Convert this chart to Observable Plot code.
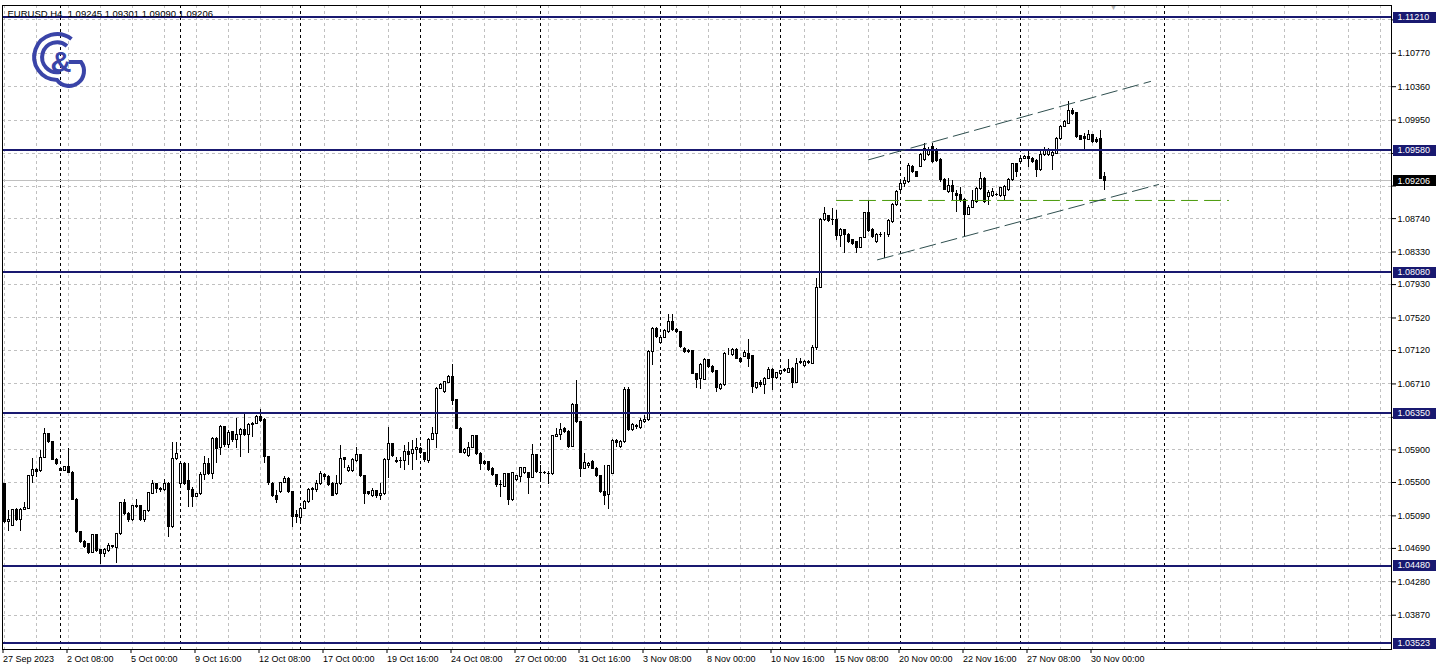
<!DOCTYPE html>
<html>
<head>
<meta charset="utf-8">
<script src="https://cdn.jsdelivr.net/npm/d3@7"></script>
<script src="https://cdn.jsdelivr.net/npm/@observablehq/plot@0.6"></script>
<style>
html,body{margin:0;padding:0;background:#fff;}
#wrap{position:relative;width:1438px;height:671px;overflow:hidden;background:#fff;}
#logo{position:absolute;left:0;top:0;pointer-events:none;}
</style>
</head>
<body>
<div id="wrap"></div>
<script>
// ---------- DATA ----------
const symbol = "EURUSD,H4";

// H4 bars, index 0 = 27 Sep 2023 16:00 ... index 275 = 30 Nov 2023 12:00
const open = [
1.05484,1.05013,1.04968,1.05156,1.05042,1.05165,1.05177,1.05574,1.05656,1.05639,
1.05803,1.06090,1.05995,1.05778,1.05668,1.05647,1.05688,1.05615,1.05287,1.04890,
1.04767,1.04739,1.04632,1.04849,1.04665,1.04616,1.04657,1.04714,1.04698,1.04862,
1.05250,1.05115,1.05034,1.05205,1.05205,1.05042,1.05148,1.05361,1.05484,1.05414,
1.05402,1.05484,1.04952,1.05791,1.05484,1.05729,1.05516,1.05410,1.05320,1.05353,
1.05586,1.05729,1.05607,1.06036,1.05926,1.06179,1.05960,1.06118,1.06016,1.06089,
1.06147,1.06077,1.06200,1.06220,1.06310,1.06269,1.05811,1.05484,1.05340,1.05381,
1.05492,1.05545,1.05381,1.05095,1.05066,1.05177,1.05259,1.05410,1.05410,1.05476,
1.05586,1.05566,1.05484,1.05353,1.05476,1.05799,1.05647,1.05647,1.05762,1.05832,
1.05574,1.05377,1.05328,1.05390,1.05328,1.05353,1.05770,1.05967,1.05758,1.05758,
1.05758,1.05873,1.05844,1.05893,1.05914,1.05860,1.05762,1.06024,1.06098,1.06650,
1.06609,1.06720,1.06794,1.06507,1.06159,1.05860,1.05819,1.05926,1.06065,1.05852,
1.05750,1.05746,1.05668,1.05586,1.05463,1.05443,1.05598,1.05287,1.05533,1.05566,
1.05615,1.05615,1.05557,1.05832,1.05619,1.05615,1.05607,1.05598,1.06057,1.06077,
1.06159,1.06118,1.05934,1.06454,1.06241,1.05668,1.05697,1.05750,1.05668,1.05574,
1.05382,1.05341,1.05607,1.06008,1.05934,1.05996,1.06638,1.06147,1.06180,1.06172,
1.06241,1.06270,1.07101,1.07387,1.07211,1.07277,1.07346,1.07469,1.07375,1.07346,
1.07142,1.07113,1.07113,1.06835,1.06773,1.06761,1.06998,1.06916,1.06863,1.06650,
1.06691,1.07088,1.07060,1.07121,1.07019,1.07040,1.07080,1.07052,1.06663,1.06720,
1.06692,1.06774,1.06884,1.06786,1.06835,1.06868,1.06843,1.06896,1.06720,1.06966,
1.06925,1.06966,1.06958,1.07154,1.07891,1.08726,1.08767,1.08718,1.08726,1.08521,
1.08595,1.08542,1.08472,1.08452,1.08382,1.08505,1.08808,1.08603,1.08452,1.08533,
1.08533,1.08533,1.08697,1.08902,1.09093,1.09167,1.09188,1.09372,1.09310,1.09373,
1.09454,1.09516,1.09618,1.09577,1.09454,1.09217,1.09066,1.09135,1.09045,1.09025,
1.08963,1.08787,1.08873,1.08943,1.09107,1.09229,1.09004,1.09012,1.09033,1.09012,
1.09012,1.09086,1.09209,1.09405,1.09434,1.09475,1.09495,1.09475,1.09446,1.09332,
1.09516,1.09516,1.09504,1.09536,1.09721,1.09864,1.09905,1.10060,1.10036,1.09749,
1.09741,1.09708,1.09761,1.09700,1.09721,1.09245
];
const high = [
1.05492,1.05156,1.05165,1.05177,1.05177,1.05259,1.05586,1.05791,1.05668,1.05893,
1.06159,1.06098,1.06008,1.05791,1.05688,1.05697,1.05914,1.05639,1.05300,1.04898,
1.04788,1.04755,1.04862,1.04858,1.04673,1.04686,1.04747,1.04731,1.04878,1.05259,
1.05287,1.05136,1.05218,1.05291,1.05218,1.05156,1.05381,1.05525,1.05492,1.05435,
1.05533,1.05504,1.05995,1.05995,1.05750,1.05750,1.05729,1.05443,1.05361,1.05620,
1.05819,1.05791,1.06048,1.06057,1.06200,1.06188,1.06138,1.06130,1.06282,1.06159,
1.06343,1.06220,1.06241,1.06323,1.06392,1.06282,1.05819,1.05504,1.05402,1.05504,
1.05574,1.05557,1.05394,1.05156,1.05197,1.05279,1.05430,1.05443,1.05525,1.05639,
1.05607,1.05586,1.05504,1.05586,1.05954,1.05811,1.05709,1.05791,1.05934,1.05844,
1.05586,1.05394,1.05422,1.05402,1.05484,1.05791,1.06180,1.05983,1.05811,1.05811,
1.05955,1.05995,1.06016,1.06036,1.05934,1.05873,1.06036,1.06180,1.06663,1.06712,
1.06744,1.06814,1.06949,1.06515,1.06171,1.05914,1.05991,1.06077,1.06077,1.05873,
1.05770,1.05758,1.05680,1.05598,1.05525,1.05607,1.05615,1.05627,1.05586,1.05688,
1.05688,1.05627,1.05967,1.05844,1.05709,1.05639,1.05639,1.06077,1.06159,1.06229,
1.06180,1.06139,1.06466,1.06753,1.06253,1.05852,1.05750,1.05770,1.05680,1.05586,
1.05709,1.05709,1.06024,1.06024,1.06016,1.06663,1.06671,1.06229,1.06212,1.06282,
1.06323,1.07121,1.07399,1.07399,1.07293,1.07375,1.07563,1.07563,1.07387,1.07358,
1.07154,1.07129,1.07121,1.06843,1.06957,1.07019,1.07006,1.06937,1.06876,1.06712,
1.07101,1.07142,1.07142,1.07142,1.07040,1.07121,1.07252,1.07060,1.06733,1.06753,
1.06794,1.06909,1.06896,1.06855,1.06876,1.06896,1.07007,1.06909,1.07019,1.07019,
1.06999,1.06999,1.07183,1.08001,1.08738,1.08873,1.08779,1.08861,1.08840,1.08615,
1.08603,1.08554,1.08480,1.08464,1.08513,1.08820,1.08963,1.08615,1.08554,1.08574,
1.08574,1.08726,1.08922,1.09086,1.09208,1.09249,1.09413,1.09392,1.09320,1.09536,
1.09659,1.09618,1.09659,1.09598,1.09475,1.09229,1.09229,1.09209,1.09086,1.09127,
1.08984,1.08902,1.09086,1.09127,1.09311,1.09242,1.09086,1.09107,1.09053,1.09127,
1.09148,1.09229,1.09422,1.09422,1.09495,1.09516,1.09585,1.09495,1.09463,1.09577,
1.09610,1.09598,1.09577,1.09741,1.09884,1.09946,1.10183,1.10089,1.10048,1.09761,
1.09782,1.09823,1.09774,1.09741,1.09823,1.09301
];
const low = [
1.05001,1.04903,1.04960,1.05025,1.04903,1.05156,1.05165,1.05484,1.05566,1.05627,
1.05791,1.05975,1.05770,1.05709,1.05639,1.05639,1.05607,1.05279,1.04878,1.04755,
1.04686,1.04616,1.04624,1.04645,1.04493,1.04583,1.04645,1.04686,1.04510,1.04849,
1.05095,1.05013,1.05025,1.05177,1.05025,1.05013,1.05136,1.05353,1.05361,1.05381,
1.05394,1.04821,1.04931,1.05770,1.05463,1.05463,1.05197,1.05197,1.05312,1.05340,
1.05525,1.05586,1.05533,1.05729,1.05832,1.05926,1.05913,1.05995,1.05913,1.05803,
1.06065,1.05852,1.06048,1.06212,1.06241,1.05729,1.05463,1.05320,1.05246,1.05369,
1.05484,1.05369,1.04952,1.04992,1.05001,1.05164,1.05246,1.05279,1.05381,1.05463,
1.05525,1.05451,1.05328,1.05340,1.05463,1.05668,1.05627,1.05627,1.05750,1.05557,
1.05230,1.05340,1.05320,1.05300,1.05279,1.05341,1.05545,1.05811,1.05729,1.05668,
1.05648,1.05709,1.05648,1.05770,1.05844,1.05750,1.05729,1.06016,1.05914,1.06638,
1.06597,1.06712,1.06446,1.06147,1.05852,1.05844,1.05803,1.05914,1.05832,1.05648,
1.05709,1.05639,1.05574,1.05443,1.05320,1.05435,1.05218,1.05271,1.05517,1.05504,
1.05598,1.05353,1.05545,1.05615,1.05517,1.05598,1.05476,1.05586,1.06048,1.06016,
1.06106,1.05914,1.05926,1.06221,1.05566,1.05656,1.05668,1.05656,1.05557,1.05369,
1.05218,1.05165,1.05598,1.05934,1.05914,1.05983,1.06131,1.06131,1.06147,1.06147,
1.06229,1.06253,1.06937,1.07264,1.07203,1.07264,1.07334,1.07358,1.07334,1.07142,
1.07088,1.07080,1.06827,1.06650,1.06638,1.06753,1.06896,1.06835,1.06610,1.06630,
1.06679,1.07060,1.07047,1.07006,1.06958,1.07031,1.06917,1.06597,1.06638,1.06671,
1.06581,1.06761,1.06630,1.06761,1.06814,1.06851,1.06835,1.06651,1.06712,1.06950,
1.06917,1.06950,1.06950,1.07121,1.07879,1.08709,1.08697,1.08656,1.08472,1.08390,
1.08308,1.08439,1.08411,1.08308,1.08370,1.08493,1.08574,1.08493,1.08439,1.08513,
1.08247,1.08513,1.08685,1.08890,1.09077,1.09126,1.09175,1.09290,1.09241,1.09364,
1.09446,1.09504,1.09422,1.09434,1.09188,1.09086,1.09053,1.08963,1.08820,1.08943,
1.08513,1.08779,1.08861,1.08931,1.09086,1.08931,1.08902,1.08996,1.09012,1.09004,
1.08963,1.09078,1.09201,1.09242,1.09413,1.09463,1.09373,1.09422,1.09250,1.09323,
1.09504,1.09504,1.09332,1.09528,1.09700,1.09856,1.09897,1.10007,1.09721,1.09700,
1.09577,1.09700,1.09667,1.09667,1.09217,1.09090
];
const close = [
1.05013,1.05034,1.05156,1.05034,1.05165,1.05181,1.05574,1.05656,1.05627,1.05803,
1.06090,1.05995,1.05778,1.05729,1.05647,1.05688,1.05615,1.05287,1.04890,1.04767,
1.04706,1.04632,1.04849,1.04657,1.04616,1.04665,1.04714,1.04706,1.04862,1.05250,
1.05115,1.05034,1.05205,1.05197,1.05034,1.05148,1.05369,1.05484,1.05414,1.05402,
1.05484,1.04952,1.05791,1.05844,1.05729,1.05484,1.05402,1.05320,1.05353,1.05586,
1.05729,1.05607,1.06036,1.05913,1.06179,1.05960,1.06106,1.06016,1.06089,1.06147,
1.06077,1.06200,1.06220,1.06310,1.06253,1.05811,1.05492,1.05340,1.05279,1.05492,
1.05545,1.05381,1.05082,1.05074,1.05177,1.05259,1.05410,1.05422,1.05476,1.05598,
1.05566,1.05463,1.05340,1.05476,1.05791,1.05770,1.05680,1.05770,1.05832,1.05574,
1.05361,1.05361,1.05394,1.05328,1.05361,1.05770,1.05967,1.05819,1.05746,1.05762,
1.05873,1.05832,1.05901,1.05922,1.05860,1.05770,1.06024,1.06098,1.06650,1.06699,
1.06732,1.06794,1.06499,1.06159,1.05860,1.05893,1.05926,1.06065,1.05852,1.05729,
1.05729,1.05656,1.05586,1.05463,1.05471,1.05598,1.05279,1.05615,1.05574,1.05680,
1.05680,1.05557,1.05832,1.05627,1.05615,1.05619,1.05598,1.06065,1.06077,1.06139,
1.06118,1.05934,1.06454,1.06241,1.05668,1.05738,1.05729,1.05668,1.05574,1.05382,
1.05328,1.05697,1.06008,1.05983,1.05996,1.06638,1.06139,1.06208,1.06188,1.06253,
1.06270,1.07101,1.07387,1.07285,1.07277,1.07358,1.07469,1.07375,1.07346,1.07162,
1.07101,1.07101,1.06835,1.06761,1.06937,1.06998,1.06916,1.06855,1.06663,1.06691,
1.07080,1.07088,1.07121,1.07019,1.06978,1.07089,1.07019,1.06671,1.06720,1.06692,
1.06774,1.06884,1.06782,1.06843,1.06863,1.06876,1.06896,1.06720,1.06958,1.06978,
1.06978,1.06978,1.07154,1.07891,1.08726,1.08791,1.08709,1.08726,1.08521,1.08595,
1.08533,1.08452,1.08431,1.08382,1.08505,1.08808,1.08587,1.08513,1.08533,1.08538,
1.08533,1.08709,1.08902,1.09066,1.09167,1.09208,1.09392,1.09310,1.09257,1.09516,
1.09598,1.09577,1.09434,1.09446,1.09209,1.09094,1.09135,1.09066,1.09012,1.08963,
1.08779,1.08873,1.08955,1.09107,1.09229,1.08943,1.09053,1.09066,1.09025,1.09115,
1.09127,1.09217,1.09405,1.09311,1.09475,1.09495,1.09475,1.09434,1.09332,1.09516,
1.09585,1.09577,1.09544,1.09721,1.09864,1.09925,1.10060,1.10019,1.09741,1.09708,
1.09721,1.09761,1.09680,1.09680,1.09229,1.09206
];

// time-axis labels, one every 16 bars starting at bar 0
const timeLabels = ["27 Sep 2023","2 Oct 08:00","5 Oct 00:00","9 Oct 16:00","12 Oct 08:00",
  "17 Oct 00:00","19 Oct 16:00","24 Oct 08:00","27 Oct 00:00","31 Oct 16:00","3 Nov 08:00",
  "8 Nov 00:00","10 Nov 16:00","15 Nov 08:00","20 Nov 00:00","22 Nov 16:00","27 Nov 08:00","30 Nov 00:00"];
const labelStep = 16;

// price-axis ticks (grid lines); some labels are covered by level tags
const priceTicks = [1.11180,1.10770,1.10360,1.09950,1.09540,1.09140,1.08740,1.08330,1.07930,
  1.07520,1.07120,1.06710,1.06300,1.05900,1.05500,1.05090,1.04690,1.04280,1.03870];
const coveredTicks = [1.11180,1.09540,1.09140,1.06300];

// horizontal support / resistance levels
const levels = [1.11210,1.09580,1.08080,1.06350,1.04480,1.03523];
const bid = 1.09206;

// bar index of Monday 00:00 (weekly separators) and a vertical marker line
const weekStarts = [14,44,74,104,134,164,194,224,254];
const vMarker = [290];

// drawn trend objects: [bar index, price]
const channelUpper = [[216,1.09462],[286.5,1.10424]];
const channelLower = [[218.25,1.08234],[288.5,1.09159]];
const greenLevel = [[208,1.08963],[306,1.08963]];

// ---------- CHART ----------
const bars = open.map((o, i) => ({i, open: o, high: high[i], low: low[i], close: close[i]}));
const last = bars[bars.length - 1];
const f5 = d3.format(".5f");
const navy = "#191970";
const xMax = 346.75;
const gridX = d3.range(0, xMax, 8);
const labelIdx = timeLabels.map((_, k) => k * labelStep);

const header = `${symbol}  ${f5(last.open)} ${f5(last.high)} ${f5(last.low)} ${f5(last.close)}`;

const chart = Plot.plot({
  width: 1438,
  height: 671,
  marginLeft: 2,
  marginRight: 47,
  marginTop: 5,
  marginBottom: 22,
  style: {fontFamily: "'Liberation Sans', Arial, sans-serif", fontSize: "9px", background: "#fff", color: "#000", overflow: "visible"},
  x: {type: "linear", domain: [-0.5, xMax]},
  y: {type: "linear", domain: [1.03449, 1.11357]},
  marks: [
    // grid
    Plot.ruleX(gridX, {stroke: "#c0c0c0", strokeDasharray: "3,3", shapeRendering: "crispEdges"}),
    Plot.ruleY(priceTicks, {stroke: "#c0c0c0", strokeDasharray: "3,3", shapeRendering: "crispEdges"}),
    Plot.ruleX(weekStarts, {stroke: "#000", strokeDasharray: "3,3", shapeRendering: "crispEdges"}),
    Plot.ruleX(vMarker, {stroke: "#000", strokeDasharray: "3,3", shapeRendering: "crispEdges"}),
    // bid line
    Plot.ruleY([bid], {stroke: "#c0c0c0", shapeRendering: "crispEdges"}),
    // candles
    Plot.ruleX(bars, {x: "i", y1: "low", y2: "high", stroke: "#000", strokeWidth: 1, shapeRendering: "crispEdges"}),
    Plot.rect(bars, {
      x1: d => d.i - 0.25, x2: d => d.i + 0.25,
      y1: "open", y2: "close",
      fill: d => d.close >= d.open ? "#fff" : "#000",
      stroke: "#000", strokeWidth: 1, shapeRendering: "crispEdges"
    }),
    // levels
    Plot.ruleY(levels, {stroke: navy, strokeWidth: 2, shapeRendering: "crispEdges"}),
    // trend objects
    Plot.line(greenLevel, {x: d => d[0], y: d => d[1], stroke: "#4a9a0a", strokeWidth: 1, strokeDasharray: "16,7"}),
    Plot.line(channelUpper, {x: d => d[0], y: d => d[1], stroke: "#2f4f4f", strokeWidth: 1, strokeDasharray: "16,6"}),
    Plot.line(channelLower, {x: d => d[0], y: d => d[1], stroke: "#2f4f4f", strokeWidth: 1, strokeDasharray: "16,6"}),
    // frame
    Plot.frame({stroke: "#000", shapeRendering: "crispEdges"}),
    // axes
    Plot.axisX({anchor: "bottom", ticks: labelIdx, tickFormat: i => timeLabels[i / labelStep],
      tickSize: 4, tickPadding: 2, textAnchor: "start", dx: -1.5, fontSize: 9, label: null}),
    Plot.axisY({anchor: "right", ticks: priceTicks, tickFormat: d => coveredTicks.includes(d) ? "" : f5(d),
      tickSize: 4, tickPadding: 2, fontSize: 9, label: null}),
    // highlighted level labels
    Plot.ruleY(levels, {x1: xMax + 0.5, x2: xMax + 11.25, stroke: navy, strokeWidth: 11, shapeRendering: "crispEdges"}),
    Plot.text(levels, {y: d => d, frameAnchor: "right", dx: 6, textAnchor: "start", text: d => f5(d), fill: "#fff", fontSize: 9}),
    Plot.ruleY([bid], {x1: xMax + 0.5, x2: xMax + 11.25, stroke: "#000", strokeWidth: 11, shapeRendering: "crispEdges"}),
    Plot.text([bid], {y: d => d, frameAnchor: "right", dx: 6, textAnchor: "start", text: d => f5(d), fill: "#fff", fontSize: 9}),
    // header
    Plot.text([header], {frameAnchor: "top-left", dx: 5, dy: 8, lineAnchor: "middle", textAnchor: "start", fontSize: 9.5, fill: "#000"}),
    // chart shift marker
    Plot.text(["▼"], {x: [bars.length + 1.25], frameAnchor: "top", dy: 2, lineAnchor: "middle", fontSize: 7, fill: "#b0b0b0"})
  ]
});

const wrap = document.getElementById("wrap");
wrap.appendChild(chart);

// logo
const logo = `<svg id="logo" width="100" height="100" xmlns="http://www.w3.org/2000/svg">
  <g fill="none" stroke="#3a44a8" stroke-width="4" stroke-linecap="butt">
    <path d="M71.5,39 A23,23 0 1 0 57,80 A14,14 0 0 0 81,62 L69,62"/>
    <path d="M67,46 A15,15 0 1 0 60,72"/>
  </g>
  <text x="61" y="72" text-anchor="middle" font-family="'Liberation Sans', Arial, sans-serif" font-weight="bold" font-size="29" fill="#3a44a8">&amp;</text>
</svg>`;
wrap.insertAdjacentHTML("beforeend", logo);
</script>
</body>
</html>
